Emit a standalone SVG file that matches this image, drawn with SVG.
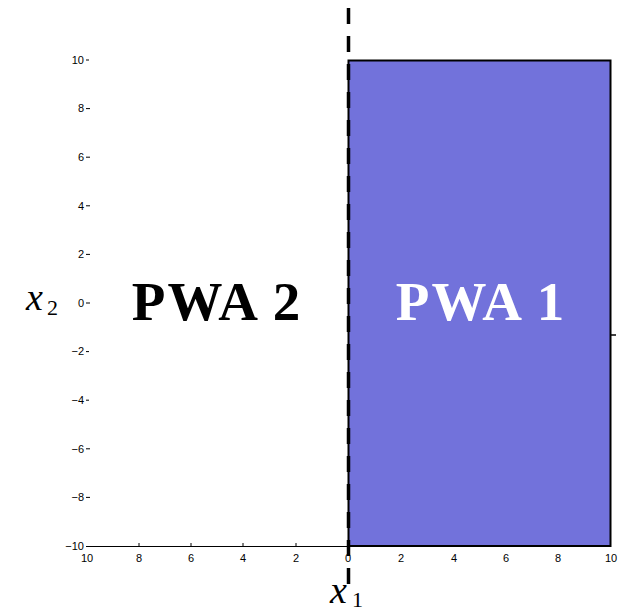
<svg xmlns="http://www.w3.org/2000/svg" width="624" height="613" viewBox="0 0 624 613">
<style>
.tk{font-family:"Liberation Sans",Arial,sans-serif;font-size:11px;fill:#000}
.tl{stroke:#000;stroke-width:1}
.big{font-family:"Liberation Serif","Times New Roman",serif;font-weight:bold;font-size:55px;letter-spacing:2px}
.var{font-family:"Liberation Serif","Times New Roman",serif;font-style:italic;font-size:38px}
.sub{font-family:"Liberation Serif","Times New Roman",serif;font-size:22px}
</style>
<rect width="624" height="613" fill="#fff"/>
<g id="axes">
<line x1="86" y1="546.5" x2="611" y2="546.5" stroke="#000" stroke-width="1.2"/>
<g class="tl">
<line x1="86" y1="60" x2="89" y2="60"/>
<line x1="86" y1="108.6" x2="90" y2="108.6"/>
<line x1="86" y1="157.2" x2="90" y2="157.2"/>
<line x1="86" y1="205.8" x2="90" y2="205.8"/>
<line x1="86" y1="254.4" x2="90" y2="254.4"/>
<line x1="86" y1="303" x2="90" y2="303"/>
<line x1="86" y1="351.6" x2="89" y2="351.6"/>
<line x1="86" y1="400.2" x2="89" y2="400.2"/>
<line x1="86" y1="448.8" x2="90" y2="448.8"/>
<line x1="86" y1="497.4" x2="90" y2="497.4"/>
<line x1="139" y1="546" x2="139" y2="543"/>
<line x1="191" y1="546" x2="191" y2="543"/>
<line x1="243" y1="546" x2="243" y2="543"/>
<line x1="296" y1="546" x2="296" y2="543"/>
<line x1="611" y1="335" x2="616" y2="335" stroke-width="1.5"/>
</g>
<g class="tk" text-anchor="end">
<text x="84" y="64">10</text>
<text x="84" y="112">8</text>
<text x="84" y="161">6</text>
<text x="84" y="210">4</text>
<text x="84" y="258">2</text>
<text x="84" y="307">0</text>
<text x="84" y="355">−2</text>
<text x="84" y="404">−4</text>
<text x="84" y="453">−6</text>
<text x="84" y="501">−8</text>
<text x="84" y="550">−10</text>
</g>
<g class="tk" text-anchor="middle">
<text x="87" y="562">10</text>
<text x="139" y="562">8</text>
<text x="191" y="562">6</text>
<text x="243" y="562">4</text>
<text x="296" y="562">2</text>
<text x="348" y="562">0</text>
<text x="401" y="562">2</text>
<text x="454" y="562">4</text>
<text x="506" y="562">6</text>
<text x="558" y="562">8</text>
<text x="611" y="562">10</text>
</g>
</g>
<g id="pwa1">
<rect x="348.5" y="60.5" width="262" height="485.5" fill="#7272DB" stroke="#000" stroke-width="2"/>
<text class="big" x="481" y="320" text-anchor="middle" fill="#fff">PWA 1</text>
</g>
<g id="pwa2">
<text class="big" x="217" y="320" text-anchor="middle" fill="#000">PWA 2</text>
</g>
<g id="connectors">
<line x1="348.5" y1="8" x2="348.5" y2="584" stroke="#000" stroke-width="3.5" stroke-dasharray="16 12"/>
</g>
<g id="labels">
<text class="var" x="26" y="310">x</text><text class="sub" x="47" y="315">2</text>
<text class="var" x="330" y="603">x</text><text class="sub" x="352" y="607">1</text>
</g>
</svg>
